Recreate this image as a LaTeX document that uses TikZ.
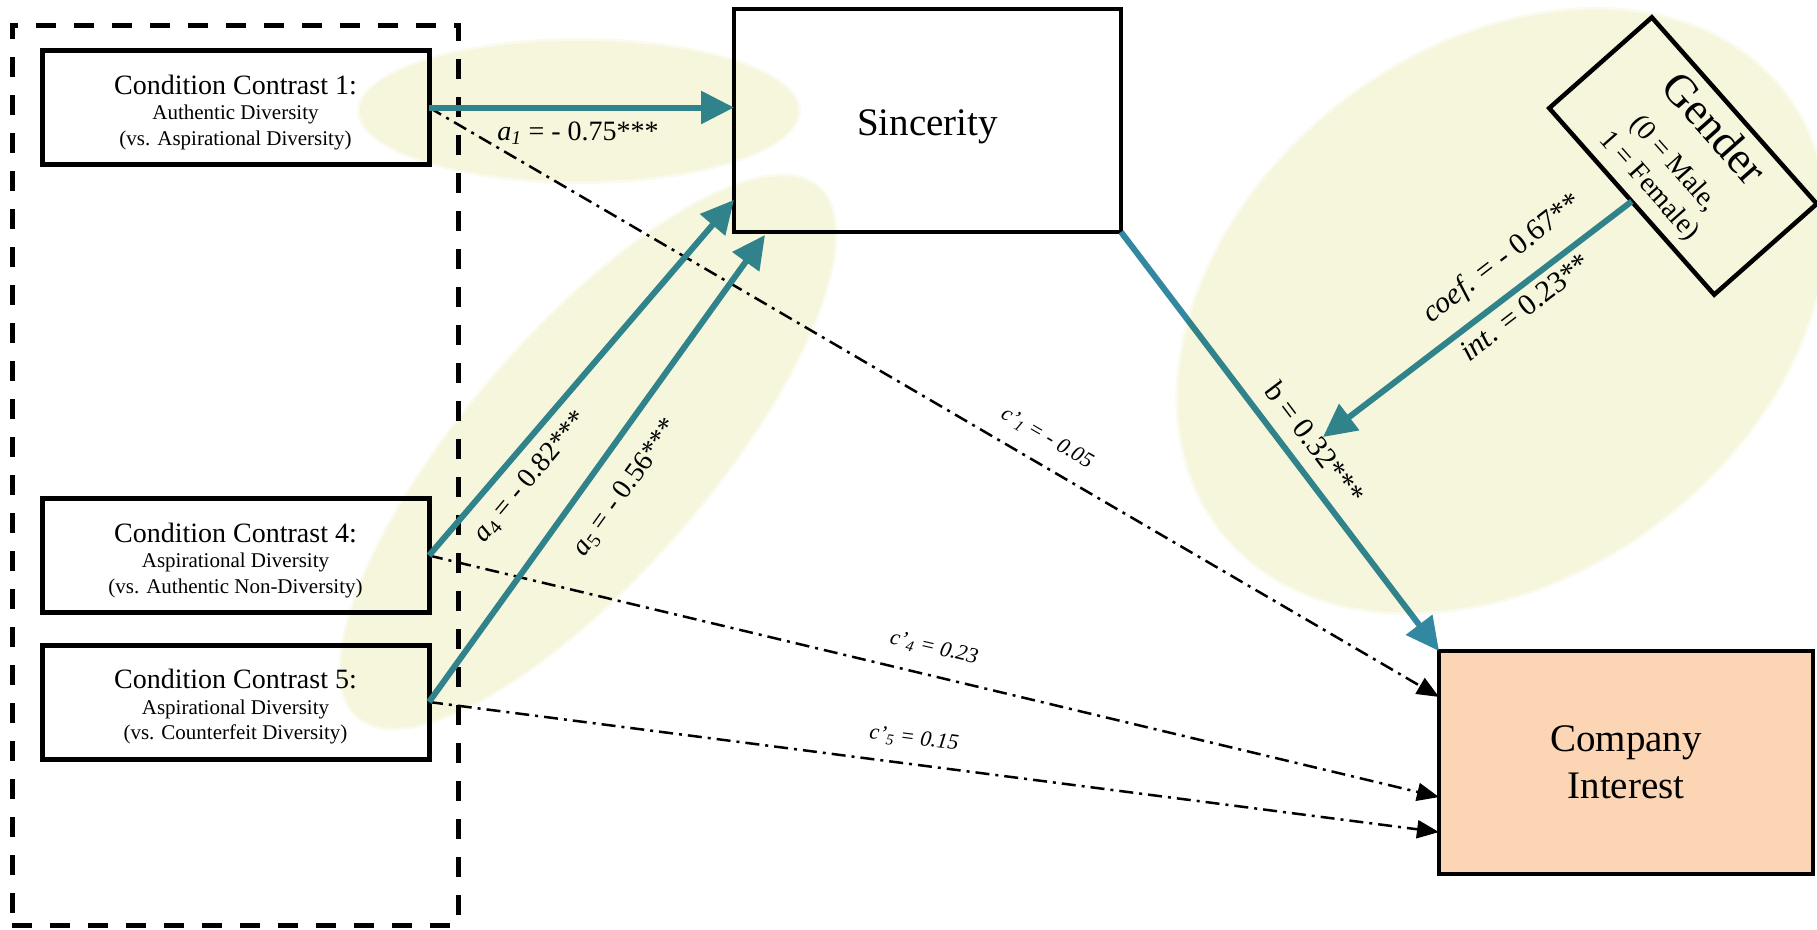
\documentclass[tikz,border=0pt]{standalone}
\usepackage{fontspec}
\setmainfont{Liberation Serif}
\usetikzlibrary{arrows.meta,calc}

\definecolor{pathblue}{RGB}{50,136,160}
\definecolor{haze}{RGB}{246,246,221}
\definecolor{peach}{RGB}{251,213,180}

% translucent highlight laid over a group of paths, with a feathered rim:
% centre x, centre y, tilt, x radius, y radius
\newcommand\hazeblob[5]{%
  \begin{scope}[rotate around={#3:(#1,#2)}]
    \fill[haze, blend mode=multiply] (#1,#2) ellipse ({#4} and {#5});
    \fill[haze, blend mode=multiply, opacity=0.5, even odd rule]
      (#1,#2) ellipse ({#4+3} and {#5+3}) (#1,#2) ellipse ({#4} and {#5});
  \end{scope}}

\begin{document}
\begin{tikzpicture}[x=1pt, y=-1pt,
  every node/.style={inner sep=0pt, outer sep=0pt},
  groupframe/.style={draw, line width=5pt, dash pattern=on 20pt off 18pt},
  condbox/.style={draw, line width=5pt, minimum width=387pt, minimum height=114pt,
    align=center, font=\fontsize{21}{25.5}\selectfont},
  bigbox/.style={draw, line width=4.5pt, minimum height=223pt,
    align=center, font=\fontsize{39}{47}\selectfont},
  genbox/.style={draw, line width=4.5pt, minimum width=249pt, minimum height=137pt,
    align=center, font=\fontsize{28}{33}\selectfont},
  patharrow/.style={draw=pathblue, line width=6pt,
    -{Triangle[length=33pt, width=32pt]}},
  directarrow/.style={draw=black, line width=2.5pt,
    dash pattern=on 14pt off 6pt on 3pt off 6pt,
    -{Triangle[length=22pt, width=18pt]}},
  coeflabel/.style={font=\fontsize{28}{30}\selectfont},
  modlabel/.style={font=\fontsize{30}{32}\selectfont},
  directlabel/.style={font=\fontsize{22}{24}\selectfont\itshape},
]
\useasboundingbox (0,0) rectangle (1817,929);

% frame around the contrast conditions
\node[groupframe, minimum width=446pt, minimum height=900pt] (grp) at (235,475) {};

% predictors (the tall strut on the first line sets the text a little lower)
\node[condbox] (cc1) at (235.5,107.5)
  {\rule{0pt}{29pt}{\fontsize{28}{25.5}\selectfont Condition Contrast 1:}\\Authentic Diversity\\(vs. Aspirational Diversity)};
\node[condbox] (cc4) at (235.5,555.5)
  {\rule{0pt}{29pt}{\fontsize{28}{25.5}\selectfont Condition Contrast 4:}\\Aspirational Diversity\\(vs. Authentic Non-Diversity)};
\node[condbox] (cc5) at (235.5,702)
  {\rule{0pt}{29pt}{\fontsize{28}{25.5}\selectfont Condition Contrast 5:}\\Aspirational Diversity\\(vs. Counterfeit Diversity)};

% mediator, outcome, moderator
\node[bigbox, minimum width=387pt] (sinc) at (927.5,120.5) {\rule{0pt}{39pt}Sincerity};
\node[bigbox, minimum width=374pt, fill=peach] (ci) at (1626,762.5) {Company\\Interest};
\node[genbox, rotate=-48.5] (gen) at (1683,156)
  {{\fontsize{45}{33}\selectfont Gender}\\[14pt](0 = Male,\\1 = Female)};

% end points on the box borders
\coordinate (a4end) at ($(sinc.south west)!0.144!(sinc.north west)$);
\coordinate (a5end) at ($(sinc.south west)+(31,3)$);
\coordinate (c1end) at ($(ci.north west)!0.206!(ci.south west)$);
\coordinate (c4end) at ($(ci.north west)!0.655!(ci.south west)$);
\coordinate (c5end) at ($(ci.north west)!0.812!(ci.south west)$);
\coordinate (modtip) at (1323,437);

% direct effects
\draw[directarrow] (cc1.east) -- (c1end);
\draw[directarrow] (cc4.east) -- (c4end);
\draw[directarrow] (cc5.east) -- (c5end);

% indirect paths
\draw[patharrow] (cc1.east) -- (sinc.west |- cc1.east);
\draw[patharrow] (cc4.east) -- (a4end);
\draw[patharrow] (cc5.east) -- (a5end);
\draw[patharrow] (sinc.south east) -- (ci.north west);
\draw[patharrow] (gen.south) -- (modtip);

% coefficients
\node[coeflabel, anchor=base] (la1) at (578,140)
  {\textit{a}\textsubscript{\textit{1}} = - 0.75***};
\node[coeflabel, rotate=50] (la4) at (531,477)
  {\textit{a}\textsubscript{4} = - 0.82***};
\node[coeflabel, rotate=54.3] (la5) at (626,488)
  {\textit{a}\textsubscript{5} = - 0.56***};
\node[modlabel, rotate=-53] (lb) at (1315,443) {b = 0.32***};
\node[modlabel, rotate=37.5] (lcoef) at (1503,259) {\textit{coef.} = - 0.67**};
\node[modlabel, rotate=37.5] (lint) at (1525,307) {\textit{int.} = 0.23**};
\node[directlabel, rotate=-30.3] (lc1) at (1047,438) {c’\textsubscript{1} = - 0.05};
\node[directlabel, rotate=-13.2] (lc4) at (934,648) {c’\textsubscript{4} = 0.23};
\node[directlabel, rotate=-7.3] (lc5) at (914,739) {c’\textsubscript{5} = 0.15};

% highlights over the path groups
\hazeblob{579}{111}{0}{219}{70}
\hazeblob{588}{452}{49}{350}{120}
\hazeblob{1502}{311}{38}{356}{262}
\end{tikzpicture}
\end{document}
